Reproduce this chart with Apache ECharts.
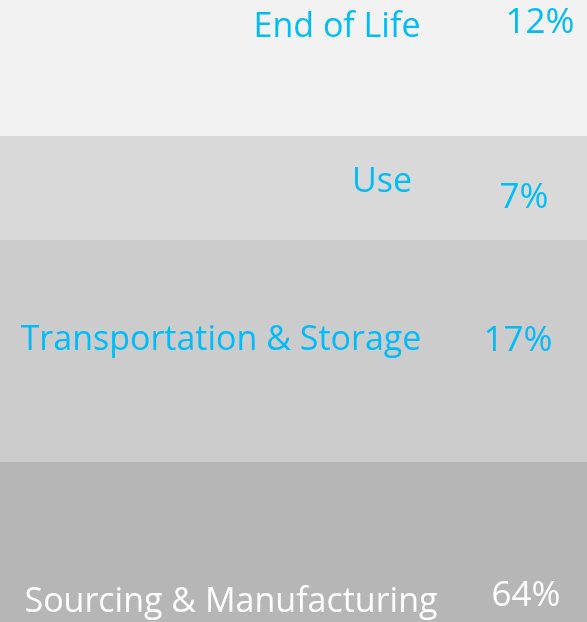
<!DOCTYPE html>
<html>
<head>
<meta charset="utf-8">
<title>Footprint by stage</title>
<script src="https://cdn.jsdelivr.net/npm/echarts@6/dist/echarts.min.js"></script>
<style>
  html, body { margin: 0; padding: 0; background: #fff; }
  #chart { width: 587px; height: 622px; }
</style>
</head>
<body>
<div id="chart"></div>
<script>
// stages bottom-up, in the order they stack in the column
var stages = ['Sourcing & Manufacturing', 'Transportation & Storage', 'Use', 'End of Life'];
var shares = [64, 17, 7, 12];              // % printed beside each stage
var bandHeights = [160, 222, 104, 136];    // drawn height of each band in the picture

var bandColors = ['#b6b6b6', '#cccccc', '#d9d9d9', '#f2f2f2'];
var textColors = ['#ffffff', '#00bcf7', '#00bcf7', '#00bcf7'];
var FONT = '"Open Sans", "Noto Sans", sans-serif';

// label anchors inside each band: [x centre, y from band top]
var nameAt = [[231, 140], [221, 100], [382, 46], [337, 27]];
var shareAt = [[526, 134], [518, 101], [524, 62], [540, 23]];

var total = bandHeights.reduce(function (a, b) { return a + b; }, 0);

var series = [];
stages.forEach(function (name, i) {
    // the band itself, carrying the stage name
    series.push({
        type: 'bar',
        name: name,
        stack: 'band',
        barWidth: '100%',
        barGap: '-100%',
        silent: true,
        data: [bandHeights[i]],
        itemStyle: { color: bandColors[i] },
        label: {
            show: true,
            position: nameAt[i],
            align: 'center',
            verticalAlign: 'middle',
            formatter: name,
            color: textColors[i],
            fontSize: 34,
            fontFamily: FONT
        }
    });
    // invisible twin band, carrying the share
    series.push({
        type: 'bar',
        name: name + ' %',
        stack: 'share',
        barWidth: '100%',
        barGap: '-100%',
        silent: true,
        data: [bandHeights[i]],
        itemStyle: { color: 'transparent' },
        label: {
            show: true,
            position: shareAt[i],
            align: 'center',
            verticalAlign: 'middle',
            formatter: shares[i] + '%',
            color: textColors[i],
            fontSize: 35,
            fontFamily: FONT
        }
    });
});

var myChart = echarts.init(document.getElementById('chart'));
myChart.setOption({
    animation: false,
    grid: { left: 0, right: 0, top: 0, bottom: 0 },
    xAxis: { type: 'category', data: ['stages'], show: false },
    yAxis: { type: 'value', min: 0, max: total, show: false },
    series: series
});
</script>
</body>
</html>
